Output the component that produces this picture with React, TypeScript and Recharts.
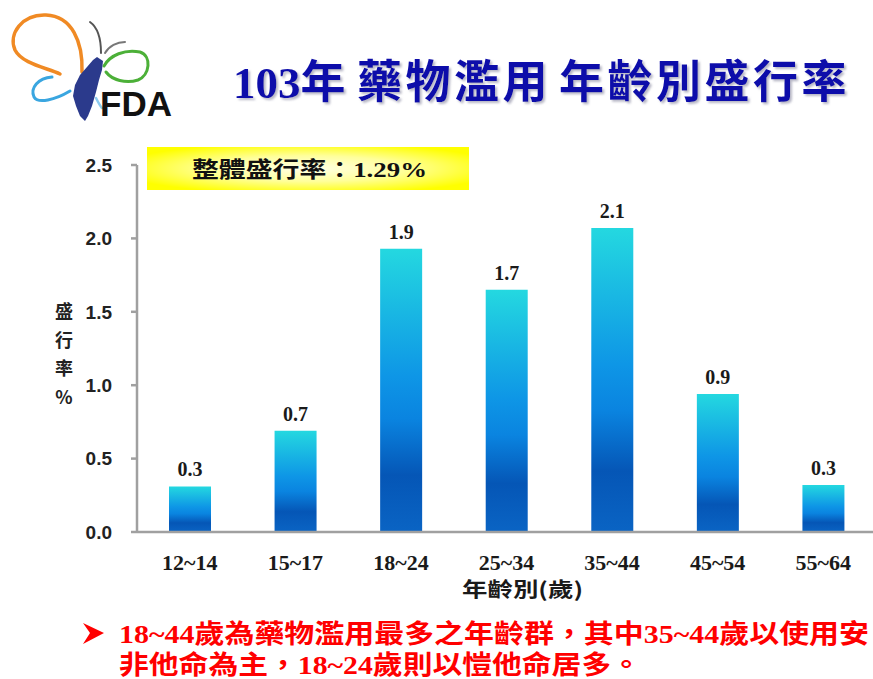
import React from "react";
import { BarChart, Bar, XAxis, YAxis, LabelList } from "recharts";

const categories = ["12~14", "15~17", "18~24", "25~34", "35~44", "45~54", "55~64"];
const prevalence = [0.31, 0.69, 1.93, 1.65, 2.07, 0.94, 0.32];
const valueLabels = ["0.3", "0.7", "1.9", "1.7", "2.1", "0.9", "0.3"];
const yTicks = [0, 0.5, 1.0, 1.5, 2.0, 2.5];
const titleParts = ["103", "年", "藥物濫用", "年齡別盛行率"];
const overallText = "整體盛行率：1.29%";
const yLabelChars = ["盛", "行", "率", "%"];
const xTitle = "年齡別(歲)";
const noteLines = [
  "18~44歲為藥物濫用最多之年齡群，其中35~44歲以使用安",
  "非他命為主，18~24歲則以愷他命居多。",
];

const data = categories.map((c, i) => ({ age: c, value: prevalence[i], label: valueLabels[i] }));

const serif = "'Liberation Serif', 'Noto Sans CJK TC', serif";
const cjk = "'Noto Sans CJK TC', 'Liberation Serif', serif";

export default function App() {
  return (
    <div style={{ position: "absolute", left: 0, top: 0, width: 873, height: 679, overflow: "hidden", background: "#fff" }}>
      <BarChart
        width={876}
        height={679}
        data={data}
        margin={{ top: 165, right: 0, bottom: 117, left: 0 }}
      >
        <defs>
          <linearGradient id="barGrad" x1="0" y1="0" x2="0" y2="1">
            <stop offset="0" stopColor="#24d8e0" />
            <stop offset="0.45" stopColor="#0e96e6" />
            <stop offset="0.6" stopColor="#0a84e0" />
            <stop offset="0.8" stopColor="#0556b6" />
            <stop offset="1" stopColor="#0a64c4" />
          </linearGradient>
        </defs>
        <XAxis
          dataKey="age"
          height={30}
          tickLine={false}
          tickSize={0}
          tickMargin={22}
          axisLine={{ stroke: "#a0a0a0", strokeWidth: 2.5 }}
          tick={{ fontSize: 22, fontWeight: "bold", fill: "#1a1a1a", fontFamily: serif }}
          interval={0}
        />
        <YAxis
          width={137}
          domain={[0, 2.5]}
          ticks={yTicks}
          tickFormatter={(v: number) => v.toFixed(1)}
          tickSize={6}
          tickMargin={19}
          axisLine={{ stroke: "#a0a0a0", strokeWidth: 2.5 }}
          tickLine={{ stroke: "#a0a0a0", strokeWidth: 2.5 }}
          tick={{ fontSize: 19, fontWeight: "bold", fill: "#222", fontFamily: "'Liberation Sans', Arial, sans-serif" }}
        />
        <Bar dataKey="value" barSize={42} fill="url(#barGrad)" isAnimationActive={false}>
          <LabelList
            dataKey="label"
            position="top"
            offset={10}
            style={{ fontSize: 20, fontWeight: "bold", fill: "#1a1a1a", fontFamily: serif }}
          />
        </Bar>
      </BarChart>
      <svg width={873} height={679} style={{ position: "absolute", left: 0, top: 0, pointerEvents: "none" }}>
        <defs>
          <radialGradient id="yellowGrad" cx="0.5" cy="0.5" r="0.6">
            <stop offset="0" stopColor="#ffffe8" />
            <stop offset="0.5" stopColor="#ffff9a" />
            <stop offset="1" stopColor="#ffff00" />
          </radialGradient>
          <filter id="titleShadow" x="-5%" y="-20%" width="110%" height="150%">
            <feDropShadow dx="2" dy="2" stdDeviation="1" floodColor="#8888a0" floodOpacity="0.6" />
          </filter>
        </defs>
        {/* Logo */}
        <g fill="none" strokeLinecap="round">
          <path d="M 82 72 C 83 42, 72 16, 46 15 C 22 14, 8 34, 15 50 C 22 64, 48 68, 60 74" stroke="#f08a24" strokeWidth={3.5} />
          <path d="M 52 77 C 38 78, 30 88, 34 97 C 38 104, 55 100, 70 91" stroke="#3aa6e0" strokeWidth={3} />
          <path d="M 96 98 C 98 102, 100 106, 102 108" stroke="#8ccbf0" strokeWidth={2.5} />
          <path d="M 104 66 C 110 55, 125 49, 140 52 C 152 56, 150 75, 138 80 C 126 84, 112 80, 106 72" stroke="#4cb038" strokeWidth={3} />
          <path d="M 90 22 C 97 27, 101 36, 101 53" stroke="#555" strokeWidth={2} />
          <path d="M 125 42 C 117 42, 109 46, 105 53" stroke="#777" strokeWidth={2} />
        </g>
        <path
          d="M 97 57 L 103 61 L 102 70 L 99 80 L 96 92 L 92 106 L 88 116 L 85 121 L 80 116 L 76 106 L 73 96 L 75 85 L 80 75 L 87 67 L 93 60 Z"
          fill="#2b3a8c"
        />
        <text x={100} y={116} fontSize={35} fontWeight="bold" fill="#111" fontFamily="'Liberation Sans', Arial, sans-serif">FDA</text>
        {/* Title */}
        <text x={233} y={98} fontSize={45} fontWeight="bold" fill="#0c0caa" fontFamily={serif} filter="url(#titleShadow)">
          <tspan>{titleParts[0]}</tspan>
          <tspan letterSpacing={3.5}>{titleParts[1]}</tspan>
          <tspan dx={8} letterSpacing={3.5}>{titleParts[2]}</tspan>
          <tspan dx={8} letterSpacing={3.5}>{titleParts[3]}</tspan>
        </text>
        {/* Overall box */}
        <rect x={147} y={147} width={322} height={43} fill="url(#yellowGrad)" />
        <text x={192} y={177} fontSize={22} fontWeight="bold" fill="#111" fontFamily={serif} textLength={235} lengthAdjust="spacingAndGlyphs">
          {overallText}
        </text>
        {/* Y label */}
        {yLabelChars.map((ch, i) => (
          <text key={i} x={64} y={318 + i * 28.5} fontSize={18} fontWeight="bold" textAnchor="middle" fill="#222" fontFamily={cjk}>
            {ch}
          </text>
        ))}
        {/* X title */}
        <text x={462} y={597} fontSize={20} fontWeight="bold" fill="#1a1a1a" fontFamily={cjk} textLength={121} lengthAdjust="spacingAndGlyphs">
          {xTitle}
        </text>
        {/* Note */}
        <polygon points="83,623 104,633 83,644 90,633" fill="#ff0000" />
        <text x={119} y={643} fontSize={26} fontWeight="bold" fill="#ff0000" fontFamily={serif} textLength={750} lengthAdjust="spacingAndGlyphs">
          {noteLines[0]}
        </text>
        <text x={119} y={674} fontSize={26} fontWeight="bold" fill="#ff0000" fontFamily={serif} textLength={522} lengthAdjust="spacingAndGlyphs">
          {noteLines[1]}
        </text>
      </svg>
    </div>
  );
}
